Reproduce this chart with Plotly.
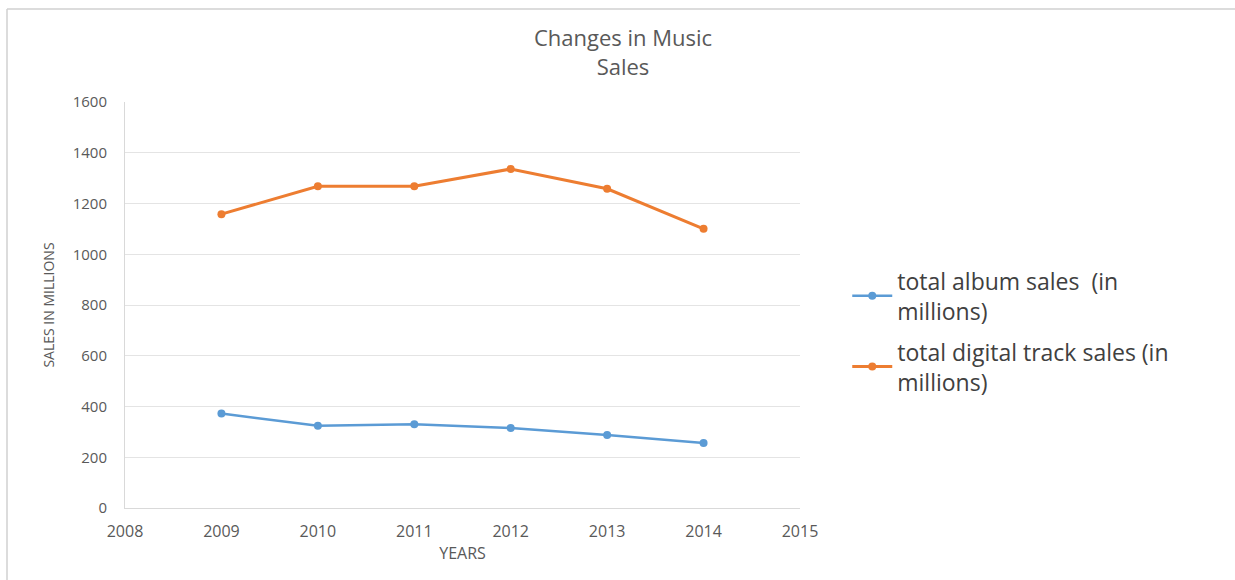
import plotly.graph_objects as go

years = [2009, 2010, 2011, 2012, 2013, 2014]
album_sales = [372, 324, 330, 315, 288, 256]
digital_track_sales = [1158, 1268, 1268, 1336, 1258, 1100]
series_names = ["total album sales  (in<br>millions)", "total digital track sales (in<br>millions)"]
x_ticks = [2008, 2009, 2010, 2011, 2012, 2013, 2014, 2015]
y_ticks = [0, 200, 400, 600, 800, 1000, 1200, 1400, 1600]

W, H = 1235, 580
L, R, T, B = 125, 435, 102, 72

fig = go.Figure()
fig.add_trace(go.Scatter(x=years, y=album_sales, name=series_names[0], mode="lines+markers",
                         legendgroup="a",
                         line=dict(color="#5B9BD5", width=2.5),
                         marker=dict(color="#5B9BD5", size=8, symbol="circle")))
fig.add_trace(go.Scatter(x=years, y=digital_track_sales, name=series_names[1], mode="lines+markers",
                         legendgroup="b",
                         line=dict(color="#ED7D31", width=3),
                         marker=dict(color="#ED7D31", size=8, symbol="circle")))

font = "Open Sans, Liberation Sans, sans-serif"
fig.update_layout(
    width=W, height=H,
    margin=dict(l=L, r=R, t=T, b=B, pad=0),
    paper_bgcolor="white", plot_bgcolor="white",
    font=dict(family=font, color="#595959"),
    title=dict(text="Changes in Music<br>Sales", x=623 / W, xanchor="center",
               y=1 - 46 / H, yanchor="middle",
               font=dict(size=22, color="#595959", family=font)),
    xaxis=dict(range=[2008, 2015], tickmode="array", tickvals=x_ticks,
               ticktext=[str(v) for v in x_ticks], showgrid=False, zeroline=False,
               showline=True, linecolor="#d9d9d9", linewidth=1, ticks="",
               ticklabelstandoff=9,
               tickfont=dict(size=16, color="#595959"),
               title=dict(text="YEARS", font=dict(size=16, color="#595959"), standoff=6)),
    yaxis=dict(range=[0, 1600], tickmode="array", tickvals=y_ticks,
               showgrid=True, gridcolor="#e4e4e4", gridwidth=1, zeroline=False,
               showline=True, linecolor="#d9d9d9", linewidth=1, ticks="",
               ticklabelstandoff=14,
               tickfont=dict(size=15, color="#595959"),
               title=dict(text="SALES IN MILLIONS", font=dict(size=14, color="#595959"), standoff=14)),
    legend=dict(x=1.07, xanchor="left", y=0.435, yanchor="middle",
                font=dict(size=23, color="#404040", family=font),
                itemwidth=40, tracegroupgap=8, bgcolor="rgba(0,0,0,0)"),
    shapes=[
        dict(type="line", xref="paper", yref="paper", x0=(7 - L) / (W - L - R), x1=(W - L) / (W - L - R),
             y0=1 + (T - 9) / (H - T - B), y1=1 + (T - 9) / (H - T - B),
             line=dict(color="#d0d0d0", width=1.5)),
        dict(type="line", xref="paper", yref="paper", x0=(7 - L) / (W - L - R), x1=(7 - L) / (W - L - R),
             y0=1 + (T - 9) / (H - T - B), y1=-B / (H - T - B),
             line=dict(color="#d0d0d0", width=1.5)),
    ],
)

fig.write_html("out.html")
